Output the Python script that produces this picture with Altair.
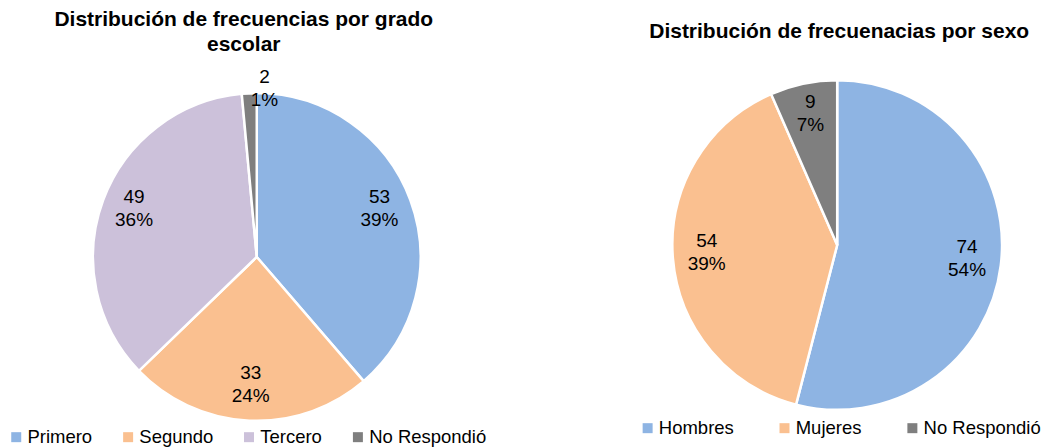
import altair as alt
import pandas as pd

FONT = "Liberation Sans"

grado_cats = ["Primero", "Segundo", "Tercero", "No Respondió"]
grado_vals = [53, 33, 49, 2]
grado_pcts = ["39%", "24%", "36%", "1%"]
grado_colors = ["#8EB4E3", "#FAC090", "#CCC1DA", "#7F7F7F"]

sexo_cats = ["Hombres", "Mujeres", "No Respondió"]
sexo_vals = [74, 54, 9]
sexo_pcts = ["54%", "39%", "7%"]
sexo_colors = ["#8EB4E3", "#FAC090", "#7F7F7F"]

title_left = "Distribución de frecuencias por grado\nescolar"
title_right = "Distribución de frecuenacias por sexo"

LBL_SIZE = 19
LBL_LH = 23


def make_df(cats, vals, pcts):
    return pd.DataFrame({
        "cat": cats,
        "value": vals,
        "label": [f"{v}\n{p}" for v, p in zip(vals, pcts)],
        "idx": list(range(len(cats))),
    })


def pie_panel(cats, vals, pcts, colors, cx, cy, r, title, tx, ty, legx, legy, colpad, w, h,
              small_thresh=5):
    df = make_df(cats, vals, pcts)
    base = alt.Chart(df).encode(
        theta=alt.Theta("value:Q", stack=True),
        order=alt.Order("idx:Q"),
        x=alt.value(cx),
        y=alt.value(cy),
    )
    arcs = base.mark_arc(outerRadius=r, stroke="white", strokeWidth=2.5).encode(
        color=alt.Color(
            "cat:N",
            scale=alt.Scale(domain=cats, range=colors),
            legend=alt.Legend(
                title=None,
                orient="none",
                direction="horizontal",
                columns=len(cats),
                legendX=legx,
                legendY=legy,
                symbolType="square",
                symbolSize=100,
                symbolStrokeWidth=0,
                labelFont=FONT,
                labelFontSize=18.5,
                labelColor="black",
                labelOffset=2,
                columnPadding=colpad,
                padding=0,
            ),
        )
    )
    inner = base.transform_filter(alt.datum.value > small_thresh).mark_text(
        radius=131, font=FONT, fontSize=LBL_SIZE, color="black", lineBreak="\n",
        lineHeight=LBL_LH, dy=-LBL_LH / 2 - 3,
    ).encode(text="label:N")
    outer = base.transform_filter(alt.datum.value <= small_thresh).mark_text(
        radius=169, font=FONT, fontSize=LBL_SIZE, color="black", lineBreak="\n",
        lineHeight=LBL_LH, dy=-LBL_LH / 2,
    ).encode(text="label:N")
    tdf = pd.DataFrame({"t": [title]})
    ttl = alt.Chart(tdf).mark_text(
        font=FONT, fontSize=21, fontWeight="bold", color="black",
        lineBreak="\n", lineHeight=25, baseline="top",
    ).encode(text="t:N", x=alt.value(tx), y=alt.value(ty))
    return alt.layer(arcs, inner, outer, ttl).properties(width=w, height=h)


left = pie_panel(grado_cats, grado_vals, grado_pcts, grado_colors,
                 257, 257, 164, title_left, 244, 9, 7, 428, 26, 520, 448)
right = pie_panel(sexo_cats, sexo_vals, sexo_pcts, sexo_colors,
                  318, 245, 165, title_right, 320, 21, 119, 419, 41, 521, 448)

chart = alt.hconcat(left, right, spacing=0).resolve_scale(
    color="independent", theta="independent"
).configure_view(stroke=None).properties(padding=0, background="white")

chart.save("out.html", embed_options={"renderer": "svg", "actions": False})
